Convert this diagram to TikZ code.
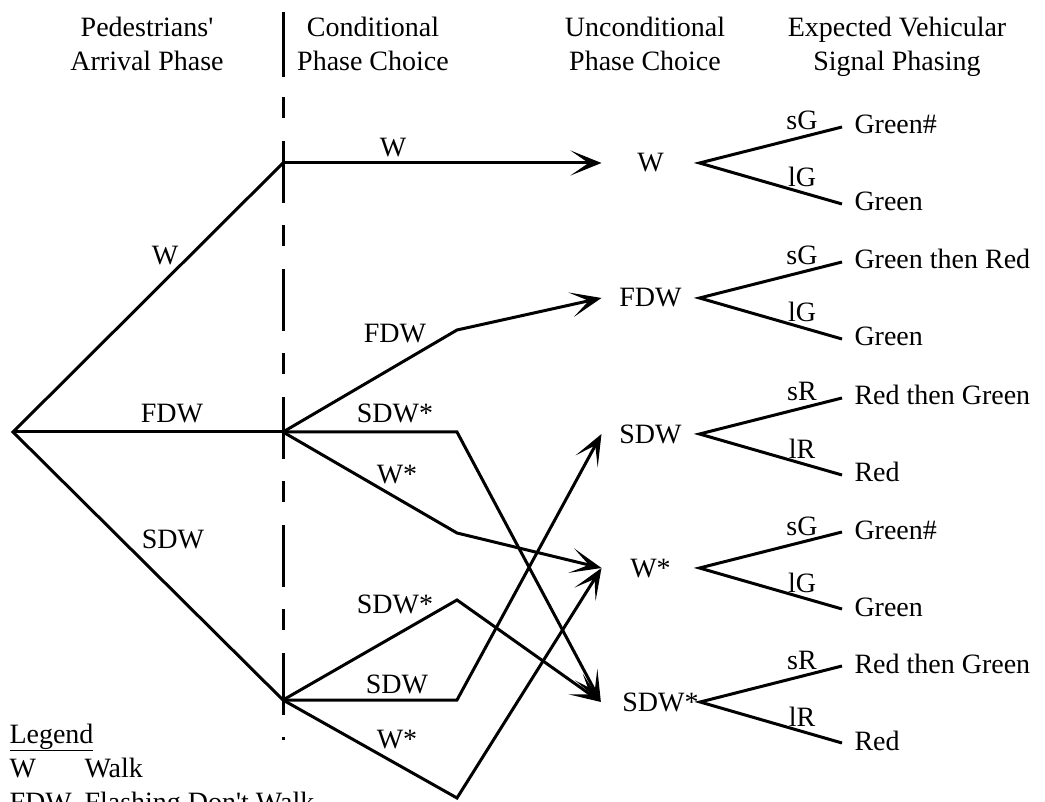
\documentclass[tikz,border=0pt]{standalone}
\usepackage{fontspec}
\setmainfont{Liberation Serif}
\usepackage{tikz}
\usetikzlibrary{arrows.meta}

\begin{document}
\begin{tikzpicture}[x=1pt,y=-1pt,line width=3pt,
    every node/.style={font=\fontsize{28}{34}\selectfont},
    lbl/.style={anchor=base,inner sep=0pt},
    head/.style={anchor=base,align=center,inner sep=0pt},
    phase/.style={minimum width=95pt,inner sep=0pt,text height=18pt,text depth=0pt},
    outcome/.style={anchor=west,inner xsep=11pt,inner ysep=0pt,text height=18pt,text depth=4pt},
    arr/.style={-{Stealth[length=31pt,width=25pt,inset=18pt]}}]
    \useasboundingbox (0,0) rectangle (1045,802);

    % headers
    \node[head] (hArr) at (147,71) {Pedestrians\textquotesingle\\Arrival Phase};
    \node[head] (hCond) at (373,71) {Conditional\\Phase Choice};
    \node[head] (hUnc) at (645,71) {Unconditional\\Phase Choice};
    \node[head] (hExp) at (897,71) {Expected Vehicular\\Signal Phasing};
    \draw (283,12) -- (283,77);
    \draw[dash pattern=on 21pt off 23pt on 62pt off 22pt] (283,97) -- (283,740);

    % arrival phase
    \coordinate (root) at (13,432);
    \coordinate (cW) at (283,163);
    \coordinate (cF) at (283,432);
    \coordinate (cS) at (283,700);
    \draw (cW) -- (root) -- (cS);
    \draw (root) -- (cF);
    \node[lbl] (aW) at (165,265) {W};
    \node[lbl] (aF) at (172,423) {FDW};
    \node[lbl] (aS) at (173,548) {SDW};

    % unconditional phase and signal phasing
    \foreach \nm/\ph/\yy/\dx/\ua/\la/\ta/\tb in {uW/W/163/0/sG/lG/Green\#/Green,
        uF/FDW/298/0/sG/lG/Green then Red/Green,
        uS/SDW/434/0/sR/lR/Red then Green/Red,
        uWs/W*/568/0/sG/lG/Green\#/Green,
        uSs/SDW*/702/20/sR/lR/Red then Green/Red}{
        \node[phase] (\nm) at (650.5,\yy) {\hspace*{\dx pt}\ph};
        \node[outcome] (\nm-up) at (842,\yy-36) {\ta};
        \node[outcome] (\nm-dn) at (842,\yy+41) {\tb};
        \draw (\nm-up.west) -- (\nm.east) -- (\nm-dn.west);
        \node[lbl] (\nm-s) at (802,\yy-33) {\ua};
        \node[lbl] (\nm-l) at (802,\yy+24) {\la};
    }

    % conditional phase choice
    \coordinate (kF1) at (457,330);
    \coordinate (kF2) at (457,432);
    \coordinate (kF3) at (457,533);
    \coordinate (kS1) at (457,600);
    \coordinate (kS2) at (457,700);
    \coordinate (kS3) at (457,798);
    \draw[arr] (cW) -- (uW.west);
    \draw[arr] (cF) -- (kF1) -- (uF.west);
    \draw[arr] (cF) -- (kF2) -- (uSs.west);
    \draw[arr] (cF) -- (kF3) -- (uWs.west);
    \draw[arr] (cS) -- (kS1) -- (uSs.west);
    \draw[arr] (cS) -- (kS2) -- (uS.west);
    \draw[arr] (cS) -- (kS3) -- (uWs.west);
    \node[lbl] (bW) at (393,157) {W};
    \node[lbl] (bF) at (395,343) {FDW};
    \node[lbl] (bFs) at (395,423) {SDW*};
    \node[lbl] (bFw) at (397,483) {W*};
    \node[lbl] (bSs) at (395,613) {SDW*};
    \node[lbl] (bS) at (397,693) {SDW};
    \node[lbl] (bSw) at (397,748) {W*};

    % legend
    \node[anchor=base west,inner sep=0pt] (lgd) at (8,743) {\underline{Legend}};
    \node[anchor=base west,inner sep=0pt] (lgW) at (8,777) {W};
    \node[anchor=base west,inner sep=0pt] (lgWt) at (83,777) {Walk};
    \node[anchor=base west,inner sep=0pt] (lgF) at (8,811) {FDW};
    \node[anchor=base west,inner sep=0pt] (lgFt) at (83,811) {Flashing Don\textquotesingle t Walk};
\end{tikzpicture}
\end{document}
